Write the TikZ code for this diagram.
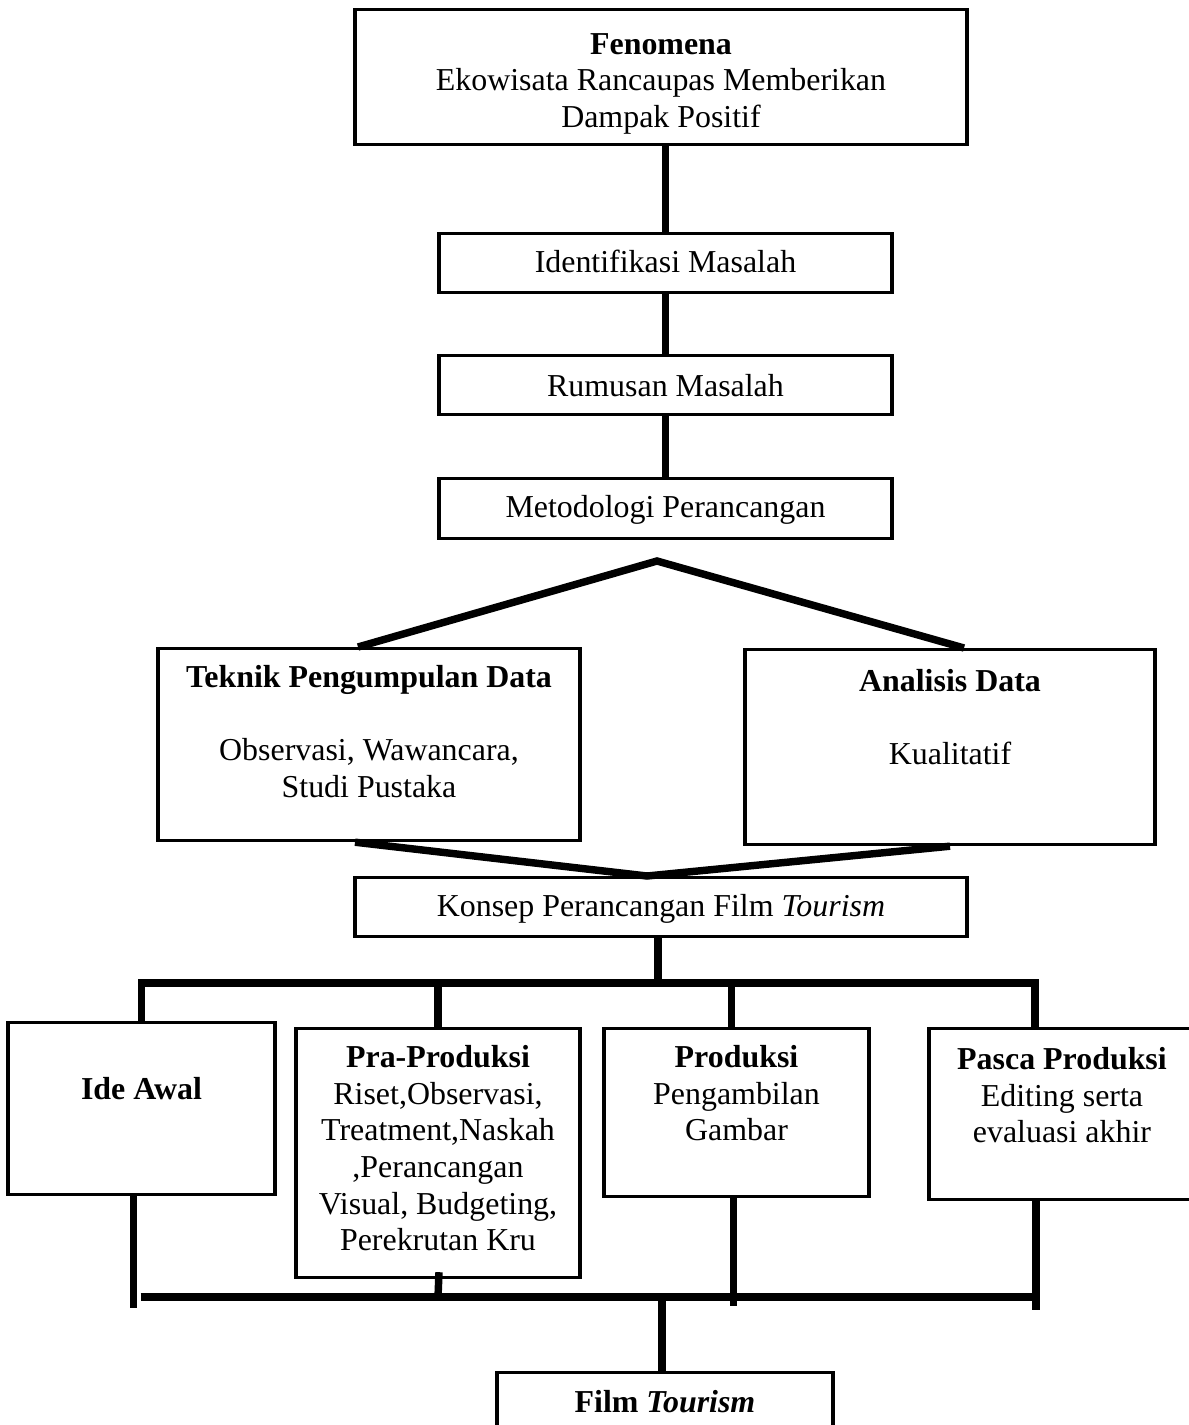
\documentclass[tikz,border=0pt]{standalone}
\usepackage{fontspec}
\setmainfont{Liberation Serif}
\usetikzlibrary{positioning, calc}
\newlength{\pxu}
\setlength{\pxu}{0.376pt}
\newcommand{\isi}[4]{\parbox[c][#2\pxu][t]{#1\pxu}{\centering\vspace*{#3\pxu}\strut #4}}
\tikzset{
    blok/.style={
        rectangle,
        draw=black,
        line width=1.2pt,
        inner sep=0pt,
        anchor=north,
    },
    garis/.style={
        line width=2.8pt,
    },
}
\begin{document}
\begin{tikzpicture}[x=0.376pt, y=-0.376pt, font=\fontsize{12pt}{13.8pt}\selectfont]
      \useasboundingbox (0,0) rectangle (1188,1425);

      \node [blok] (fen) at (661,8) {\isi{612}{135}{19}{\textbf{Fenomena}\\Ekowisata Rancaupas Memberikan\\Dampak Positif}};
      \node [blok] (ident) at (665.5,232) {\isi{453}{59}{13}{Identifikasi Masalah}};
      \node [blok] (rumus) at (665.5,354) {\isi{453}{59}{15}{Rumusan Masalah}};
      \node [blok] (metod) at (665.5,477) {\isi{453}{60}{13}{Metodologi Perancangan}};

      \node [blok] (teknik) at (369,647) {\isi{422}{192}{13}{\textbf{Teknik Pengumpulan Data}\\[13.8pt]Observasi, Wawancara,\\Studi Pustaka}};
      \node [blok] (analisis) at (950,648) {\isi{410}{195}{16}{\textbf{Analisis Data}\\[13.8pt]Kualitatif}};
      \node [blok] (konsep) at (661,876) {\isi{612}{59}{13}{Konsep Perancangan Film \textit{Tourism}}};

      \node [blok] (ide) at (141.5,1021) {\isi{267}{172}{51}{\textbf{Ide Awal}}};
      \node [blok] (pra) at (438,1027) {\isi{284}{249}{13}{\textbf{Pra-Produksi}\\Riset,Observasi,\\Treatment,Naskah\\,Perancangan\\Visual, Budgeting,\\Perekrutan Kru}};
      \node [blok] (prod) at (736.5,1027) {\isi{265}{168}{13}{\textbf{Produksi}\\Pengambilan\\Gambar}};
      \node [blok] (pasca) at (1062,1027) {\isi{266}{171}{15}{\textbf{Pasca Produksi}\\Editing serta\\evaluasi akhir}};
      \node [blok] (film) at (665,1371) {\isi{336}{70}{14}{\textbf{Film \textit{Tourism}}}};

      \coordinate (puncak) at (657,561);
      \coordinate (bustop) at (658,983);
      \coordinate (busbawah) at (662,1297);
      \coordinate (pascaatas) at ($(pasca.north)+(-27,0)$);
      \coordinate (prodatas) at ($(prod.north)+(-5,0)$);
      \coordinate (idebawah) at ($(ide.south)+(-8,0)$);
      \coordinate (prodbawah) at ($(prod.south)+(-3,0)$);
      \coordinate (pascabawah) at ($(pasca.south)+(-26,0)$);

      \draw[garis] (ident.north) -- (ident.north |- fen.south);
      \draw[garis] (ident) -- (rumus);
      \draw[garis] (rumus) -- (metod);
      \draw[garis] ($(teknik.north)+(-11,0)$) -- (puncak) -- ($(analisis.north)+(14,0)$);
      \draw[garis] ($(teknik.south)+(-14,0)$) -- ($(konsep.north)+(-14,0)$) -- (analisis.south);

      \draw[garis] ($(konsep.south)+(-3,0)$) -- (bustop);
      \draw[garis] (ide.north) |- (pascaatas |- bustop) -- (pascaatas);
      \draw[garis] (pra.north) -- (pra.north |- bustop);
      \draw[garis] (prodatas) -- (prodatas |- bustop);

      \draw[garis] (idebawah) -- ++(0,112);
      \draw[garis] (prodbawah) -- ++(0,108);
      \draw[garis] (pascabawah) -- ++(0,109);
      \draw[garis] ($(pra.south)+(1,-7)$) -- (pra.south |- busbawah);
      \draw[garis] ($(idebawah |- busbawah)+(7,0)$) -- (pascabawah |- busbawah);
      \draw[garis] (busbawah) -- (busbawah |- film.north);
\end{tikzpicture}
\end{document}
